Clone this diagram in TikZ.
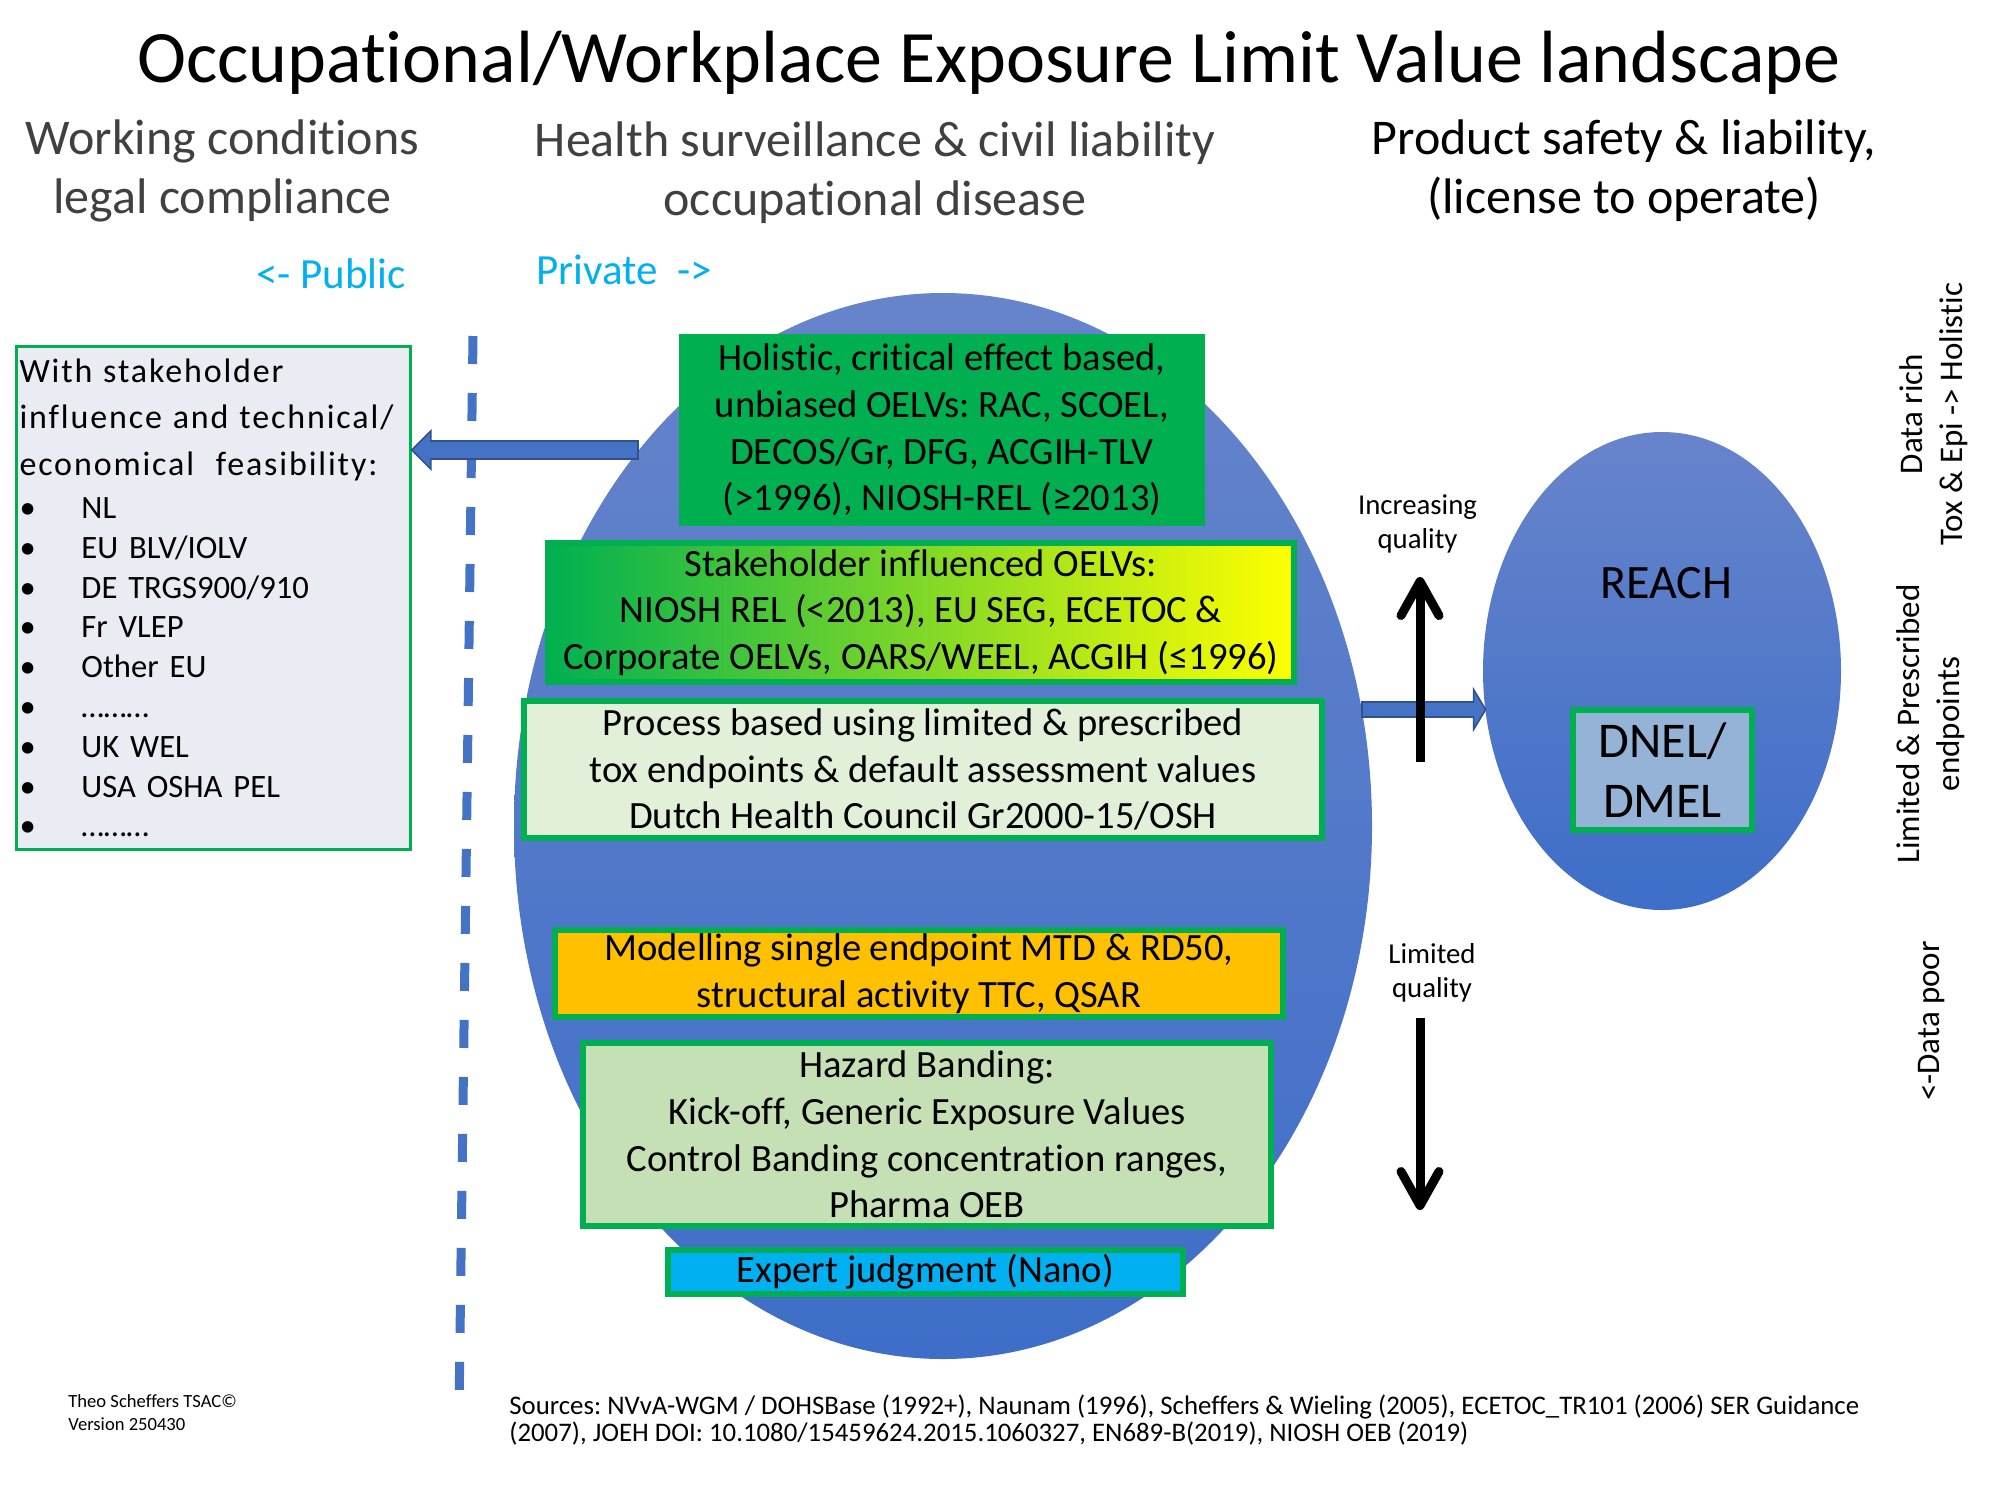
\documentclass[tikz,border=0pt]{standalone}
\usepackage{fontspec}
\setmainfont{Carlito}[Ligatures={TeX,NoCommon}]
\usetikzlibrary{shapes.geometric,arrows.meta,calc}
\definecolor{ogreen}{HTML}{00B050}
\definecolor{oyellow}{HTML}{FFFF00}
\definecolor{ocyan}{HTML}{00B0F0}
\definecolor{hgray}{HTML}{404040}
\definecolor{ovtop}{HTML}{6784CB}
\definecolor{ovbot}{HTML}{3E6EC8}
\definecolor{ablue}{HTML}{4472C4}
\definecolor{adark}{HTML}{2F528F}
\definecolor{procfill}{HTML}{E2F0D9}
\definecolor{hazfill}{HTML}{C5E0B4}
\definecolor{modfill}{HTML}{FFC000}
\definecolor{dnelfill}{HTML}{94B3D6}
\definecolor{pubfill}{HTML}{E9ECF2}
\newcommand{\fs}[2]{\fontsize{#1}{#2}\selectfont}
\newcommand{\itm}[1]{\makebox[31pt][l]{•}#1}
\newcommand{\spaced}[1]{{\fs{17}{19.9}\addfontfeature{LetterSpace=5.5}#1}}
\frenchspacing
\begin{document}
\begin{tikzpicture}[x=0.5pt,y=-0.5pt,
  ovalshape/.style={ellipse, inner sep=0pt, draw=none, top color=ovtop, bottom color=ovbot},
  obox/.style={rectangle, draw=ogreen, line width=3pt, inner sep=2pt, align=center, font=\fs{19.3}{23.3}\frenchspacing},
  barrow/.style={fill=ablue, draw=adark, line width=0.8pt},
  qarrow/.style={line width=4.5pt, -{Straight Barb[length=17pt,width=19pt,round]}},
  qlabel/.style={align=center, inner sep=0pt, font=\fs{14.4}{17}},
  heading/.style={align=center, inner sep=0pt, font=\fs{25}{29.5}},
  side/.style={font=\fs{21.5}{25}, text=ocyan, inner sep=0pt},
  rlabel/.style={rotate=90, align=center, inner sep=0pt, font=\fs{16.5}{20}},
  divider/.style={draw=ablue, line width=4.5pt, dash pattern=on 14pt off 14.5pt},
]
\fill[white] (0,0) rectangle (2000,1500);
\useasboundingbox (0,0) rectangle (2000,1500);

% titles
\node[anchor=base, font=\fs{37}{44}, inner sep=0pt] (title) at (989,82) {Occupational/Workplace Exposure Limit Value landscape};
\node[heading, text=hgray] (hwork) at (222.5,170.5) {Working conditions\\legal compliance};
\node[heading, text=hgray] (hhealth) at (875,172.5) {Health surveillance \& civil liability\\occupational disease};
\node[heading] (hprod) at (1624,170.5) {Product safety \& liability,\\(license to operate)};
\node[side, anchor=base] (public) at (331,288) {<- Public};
\node[side, anchor=base] (private) at (624,284) {Private\ \ ->};

% ovals
\node[ovalshape, minimum width=429pt, minimum height=533pt] (oval) at (943,826) {};
\node[ovalshape, minimum width=179pt, minimum height=239pt] (reach) at (1662,671) {};
\node[anchor=base, font=\fs{24}{30}, inner sep=0pt] (reachlbl) at (1666.5,598) {REACH};

% boxes in the oval
\node[obox, draw=none, fill=ogreen, minimum width=263pt, minimum height=96pt] (holistic) at (942,430)
  {Holistic, critical effect based,\\unbiased OELVs: RAC, SCOEL,\\DECOS/Gr, DFG, ACGIH-TLV\\(>1996), NIOSH-REL (≥2013)};
\node[obox, left color=ogreen, right color=oyellow, minimum width=373pt, minimum height=69.5pt] (stake) at (921,612.5)
  {Stakeholder influenced OELVs:\\NIOSH REL (<2013), EU SEG, ECETOC \&\\Corporate OELVs, OARS/WEEL, ACGIH (≤1996)};
\node[obox, fill=procfill, minimum width=399pt, minimum height=68.5pt] (process) at (923,769.5)
  {Process based using limited \& prescribed\\tox endpoints \& default assessment values\\Dutch Health Council Gr2000-15/OSH};
\node[obox, fill=modfill, minimum width=364pt, minimum height=43.5pt] (model) at (919,973.5)
  {Modelling single endpoint MTD \& RD50,\\structural activity TTC, QSAR};
\node[obox, fill=hazfill, minimum width=344pt, minimum height=91.5pt] (hazard) at (927,1134.5)
  {Hazard Banding:\\Kick-off, Generic Exposure Values\\Control Banding concentration ranges,\\Pharma OEB};
\node[obox, fill=ocyan, minimum width=257.5pt, minimum height=22pt] (expert) at (925.5,1272)
  {Expert judgment (Nano)};
\node[obox, fill=dnelfill, minimum width=89.5pt, minimum height=60pt, font=\fs{25}{30}] (dnel) at (1662.5,770)
  {DNEL/\\DMEL};

% public / private divider
\coordinate (dtop) at (473,336);
\coordinate (dbot) at (459,1413);
\draw[divider] (dtop) -- (dbot);

% left box
\node[rectangle, draw=ogreen, line width=1.3pt, fill=pubfill, minimum width=197pt, minimum height=251.4pt,
  text width=194pt, inner xsep=1pt, inner ysep=0pt, align=left, font=\fs{16.3}{19.9}\frenchspacing] (pubbox) at (213.5,598)
  {\spaced{With stakeholder}\\[3.35pt]
   \spaced{influence and technical/}\\[3.35pt]
   \spaced{economical\ \ feasibility:}\\[1.6pt]
   \itm{NL}\\
   \itm{EU BLV/IOLV}\\
   \itm{DE TRGS900/910}\\
   \itm{Fr VLEP}\\
   \itm{Other EU}\\
   \itm{………}\\
   \itm{UK WEL}\\
   \itm{USA OSHA PEL}\\
   \itm{………}};

% block arrows
\coordinate (ltail) at (638,450);
\coordinate (ltip) at (pubbox.east |- ltail);
\draw[barrow] ($(ltail)+(0,-9)$) -- ($(ltip)+(19,-9)$) -- ($(ltip)+(19,-19)$) -- (ltip)
  -- ($(ltip)+(19,19)$) -- ($(ltip)+(19,9)$) -- ($(ltail)+(0,9)$) -- cycle;
\coordinate (rtail) at (1362,709.5);
\coordinate (rtip) at ($(reach.west |- rtail)+(3,0)$);
\draw[barrow] ($(rtail)+(0,-7.5)$) -- ($(rtip)+(-12,-7.5)$) -- ($(rtip)+(-12,-20)$) -- (rtip)
  -- ($(rtip)+(-12,20)$) -- ($(rtip)+(-12,7.5)$) -- ($(rtail)+(0,7.5)$) -- cycle;

% quality arrows
\node[qlabel] (incq) at (1417.5,523.5) {Increasing\\quality};
\node[qlabel] (limq) at (1432,973) {Limited\\quality};
\coordinate (upbot) at (1420,762);
\coordinate (uptip) at (1420,577);
\coordinate (dntop) at (1420,1018);
\coordinate (dntip) at (1420,1210);
\draw[qarrow] (upbot) -- (uptip);
\draw[qarrow] (dntop) -- (dntip);

% right side labels
\node[rlabel] (datarich) at (1934,414) {Data rich\\Tox \& Epi -> Holistic};
\node[rlabel] (limpre) at (1931,724) {Limited \& Prescribed\\endpoints};
\node[rlabel] (datapoor) at (1932,1021) {<-Data poor};

% footer
\node[anchor=north west, inner sep=0pt, align=left, font=\fs{9.3}{11.5}] (author) at (68,1394)
  {Theo Scheffers TSAC©\\Version 250430};
\node[anchor=north west, inner sep=0pt, align=left, font=\fs{13.4}{13.5}\frenchspacing] (sources) at (509,1394)
  {Sources: NVvA-WGM / DOHSBase (1992+), Naunam (1996), Scheffers \& Wieling (2005), ECETOC\_TR101 (2006) SER Guidance\\(2007), JOEH DOI: 10.1080/15459624.2015.1060327, EN689-B(2019), NIOSH OEB (2019)};
\end{tikzpicture}
\end{document}
